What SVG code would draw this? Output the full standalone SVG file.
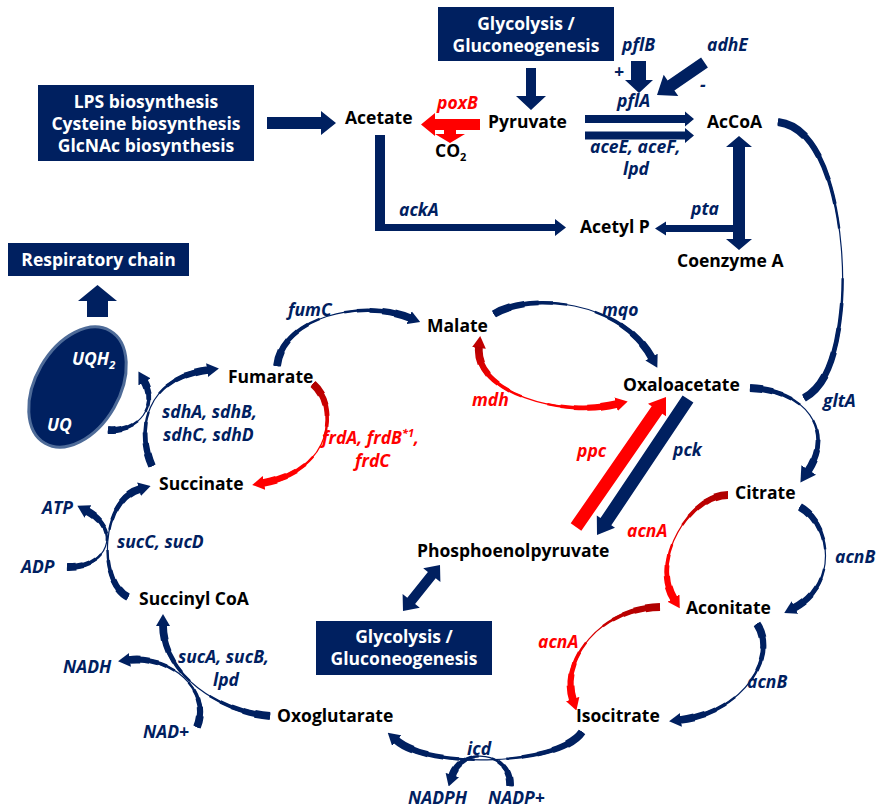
<svg xmlns="http://www.w3.org/2000/svg" xmlns:xlink="http://www.w3.org/1999/xlink" width="884" height="808" viewBox="0 0 884 808">
<style>
text{font-family:"Open Sans","Liberation Sans",sans-serif;font-weight:700;font-size:17.5px}
.n{fill:#000}
.e{font-style:italic;fill:#002060}
.er{font-style:italic;fill:#ff0000}
.bx{fill:#002060}
.bt{fill:#fff;text-anchor:middle}
.nv{fill:#002060}
.rf{fill:#ff0000}
.s0{stroke-width:1.2}
.s1{stroke-width:2.4;stroke-dasharray:42 16 42}
.s2{stroke-width:3.6;stroke-dasharray:34 32 34}
.s3{stroke-width:4.8;stroke-dasharray:26 48 26}
.s4{stroke-width:6.2;stroke-dasharray:18 64 18}
.s5{stroke-width:7.8;stroke-dasharray:10 80 10}
.cv{stroke:#002060;fill:none}
.cr{stroke:url(#rg);fill:none}
</style>
<defs>
<linearGradient id="rg" x1="0" y1="0" x2="0" y2="1">
<stop offset="0" stop-color="#b00000"/>
<stop offset="0.6" stop-color="#ff0000"/>
</linearGradient>
<marker id="hn" viewBox="0 0 12 14" markerWidth="12" markerHeight="14" refX="1" refY="7" orient="auto-start-reverse" markerUnits="userSpaceOnUse"><path d="M0,0 L12,7 L0,14 z" fill="#002060"/></marker>
<marker id="hb" viewBox="0 0 12 14" markerWidth="15" markerHeight="18" refX="1" refY="7" orient="auto-start-reverse" markerUnits="userSpaceOnUse"><path d="M0,0 L12,7 L0,14 z" fill="#002060"/></marker>
<marker id="hr" viewBox="0 0 12 14" markerWidth="12" markerHeight="14" refX="1" refY="7" orient="auto-start-reverse" markerUnits="userSpaceOnUse"><path d="M0,0 L12,7 L0,14 z" fill="#ff0000"/></marker>
<marker id="hd" viewBox="0 0 12 14" markerWidth="12" markerHeight="14" refX="1" refY="7" orient="auto-start-reverse" markerUnits="userSpaceOnUse"><path d="M0,0 L12,7 L0,14 z" fill="#c00000"/></marker>
<path id="pFum" pathLength="100" d="M277,366 C282,318 360,298 410,318"/>
<path id="pSdh" pathLength="100" d="M152,466 C136,430 145,378 208,370"/>
<path id="pUq" pathLength="100" d="M108,430 C140,432 158,405 144,381"/>
<path id="pFrd" pathLength="100" d="M313,384 C338,405 335,470 263,483"/>
<path id="pMqo" pathLength="100" d="M494,314 C530,292 620,300 652,358"/>
<path id="pMdh" pathLength="100" d="M479,347 C474,392 560,418 617,404"/>
<path id="pGlt" pathLength="100" d="M750,388 C805,390 835,430 808,471"/>
<path id="pAc" pathLength="100" d="M778,122 C832,128 846,240 842,300 C838,350 828,385 804,398"/>
<path id="pAcnB1" pathLength="100" d="M800,507 C832,525 838,585 794,608"/>
<path id="pAcnA1" pathLength="100" d="M728,495 C690,495 650,560 674,599"/>
<path id="pAcnA2" pathLength="100" d="M660,607 C600,608 560,660 573,700"/>
<path id="pAcnB2" pathLength="100" d="M757,624 C778,655 745,712 680,720"/>
<path id="pIcd" pathLength="100" d="M582,732 C560,765 430,770 396,740"/>
<path id="pNadp" pathLength="100" d="M510,786 C512,752 462,745 452,776"/>
<path id="pSucA" pathLength="100" d="M270,716 C220,712 163,675 163,625"/>
<path id="pNad" pathLength="100" d="M197,727 C212,690 170,655 129,660"/>
<path id="pSucC" pathLength="100" d="M128,597 C98,582 100,500 140,489"/>
<path id="pAdp" pathLength="100" d="M67,567 C108,568 122,530 87,511"/>
</defs>

<g id="connectors">
<polygon class="nv" points="526,68 536,68 536,96 546,96 531,110 516,96 526,96"/>
<polygon class="nv" points="267,117 321,117 321,111 336,123 321,135 321,129 267,129"/>
<polygon class="rf" points="421,124.5 435,113 435,119 480,119 480,130 435,130 435,136"/>
<polygon class="rf" points="444,129 456,129 456,134 465,134 450,143 435,134 444,134"/>
<polygon class="nv" points="585,115 685,115 685,111.5 694,119 685,126.5 685,123 585,123"/>
<polygon class="nv" points="585,131.5 685,131.5 685,128 694,135.5 685,143 685,139.5 585,139.5"/>
<polygon class="nv" points="631,61 646,61 646,80 653,80 639,93 625,80 631,80"/>
<polygon class="nv" points="701.1,57.5 707.9,67.5 674.4,90.4 678.3,96.1 657,95 663.7,74.7 667.6,80.5"/>
<polygon class="nv" points="739,136 752,147 745,147 745,239 752,239 739,250 726,239 733,239 733,147 726,147"/>
<polygon class="nv" points="739,225 666,225 666,221.5 655,228.5 666,235.5 666,232 739,232"/>
<polygon class="nv" points="375,135 385,135 385,224 555,224 555,219 566,227.5 555,236 555,231 375,231"/>
<polygon class="nv" points="87,317 108,317 108,301 117,301 97.5,285 78,301 87,301"/>
<polygon class="rf" points="570.7,523.3 651.7,406.3 648,403.7 666,397 666,416.3 662.3,413.7 581.3,530.7"/>
<polygon class="nv" points="682.6,395.4 693.4,402.6 611.3,525.3 615,527.8 597,535 596.8,515.6 600.5,518.1"/>
<polygon class="nv" points="440,565 440.4,582 435.7,578.2 415.1,604 419.8,607.8 403,611 402.6,594 407.3,597.8 427.9,572 423.2,568.2"/>

<g class="cv"><use xlink:href="#pFum" class="s0" marker-end="url(#hn)"/><use xlink:href="#pFum" class="s1"/><use xlink:href="#pFum" class="s2"/><use xlink:href="#pFum" class="s3"/><use xlink:href="#pFum" class="s4"/><use xlink:href="#pFum" class="s5"/></g>
<g class="cv"><use xlink:href="#pSdh" class="s0" marker-end="url(#hn)"/><use xlink:href="#pSdh" class="s1"/><use xlink:href="#pSdh" class="s2"/><use xlink:href="#pSdh" class="s3"/><use xlink:href="#pSdh" class="s4"/><use xlink:href="#pSdh" class="s5"/></g>
<g class="cv"><use xlink:href="#pUq" class="s0" marker-end="url(#hn)"/><use xlink:href="#pUq" class="s1"/><use xlink:href="#pUq" class="s2"/><use xlink:href="#pUq" class="s3"/><use xlink:href="#pUq" class="s4"/><use xlink:href="#pUq" class="s5"/></g>
<g class="cr"><use xlink:href="#pFrd" class="s0" marker-end="url(#hr)"/><use xlink:href="#pFrd" class="s1"/><use xlink:href="#pFrd" class="s2"/><use xlink:href="#pFrd" class="s3"/><use xlink:href="#pFrd" class="s4"/><use xlink:href="#pFrd" class="s5"/></g>
<g class="cv"><use xlink:href="#pMqo" class="s0" marker-end="url(#hn)"/><use xlink:href="#pMqo" class="s1"/><use xlink:href="#pMqo" class="s2"/><use xlink:href="#pMqo" class="s3"/><use xlink:href="#pMqo" class="s4"/><use xlink:href="#pMqo" class="s5"/></g>
<g class="cr"><use xlink:href="#pMdh" class="s0" marker-start="url(#hd)" marker-end="url(#hr)"/><use xlink:href="#pMdh" class="s1"/><use xlink:href="#pMdh" class="s2"/><use xlink:href="#pMdh" class="s3"/><use xlink:href="#pMdh" class="s4"/><use xlink:href="#pMdh" class="s5"/></g>
<g class="cv"><use xlink:href="#pGlt" class="s0" marker-end="url(#hb)"/><use xlink:href="#pGlt" class="s1"/><use xlink:href="#pGlt" class="s2"/><use xlink:href="#pGlt" class="s3"/><use xlink:href="#pGlt" class="s4"/><use xlink:href="#pGlt" class="s5"/></g>
<g class="cv"><use xlink:href="#pAc" class="s0"/><use xlink:href="#pAc" class="s1"/><use xlink:href="#pAc" class="s2"/><use xlink:href="#pAc" class="s3"/><use xlink:href="#pAc" class="s4"/><use xlink:href="#pAc" class="s5"/></g>
<g class="cv"><use xlink:href="#pAcnB1" class="s0" marker-end="url(#hn)"/><use xlink:href="#pAcnB1" class="s1"/><use xlink:href="#pAcnB1" class="s2"/><use xlink:href="#pAcnB1" class="s3"/><use xlink:href="#pAcnB1" class="s4"/><use xlink:href="#pAcnB1" class="s5"/></g>
<g class="cr"><use xlink:href="#pAcnA1" class="s0" marker-end="url(#hr)"/><use xlink:href="#pAcnA1" class="s1"/><use xlink:href="#pAcnA1" class="s2"/><use xlink:href="#pAcnA1" class="s3"/><use xlink:href="#pAcnA1" class="s4"/><use xlink:href="#pAcnA1" class="s5"/></g>
<g class="cr"><use xlink:href="#pAcnA2" class="s0" marker-end="url(#hr)"/><use xlink:href="#pAcnA2" class="s1"/><use xlink:href="#pAcnA2" class="s2"/><use xlink:href="#pAcnA2" class="s3"/><use xlink:href="#pAcnA2" class="s4"/><use xlink:href="#pAcnA2" class="s5"/></g>
<g class="cv"><use xlink:href="#pAcnB2" class="s0" marker-end="url(#hn)"/><use xlink:href="#pAcnB2" class="s1"/><use xlink:href="#pAcnB2" class="s2"/><use xlink:href="#pAcnB2" class="s3"/><use xlink:href="#pAcnB2" class="s4"/><use xlink:href="#pAcnB2" class="s5"/></g>
<g class="cv"><use xlink:href="#pIcd" class="s0" marker-end="url(#hn)"/><use xlink:href="#pIcd" class="s1"/><use xlink:href="#pIcd" class="s2"/><use xlink:href="#pIcd" class="s3"/><use xlink:href="#pIcd" class="s4"/><use xlink:href="#pIcd" class="s5"/></g>
<g class="cv"><use xlink:href="#pNadp" class="s0" marker-end="url(#hn)"/><use xlink:href="#pNadp" class="s1"/><use xlink:href="#pNadp" class="s2"/><use xlink:href="#pNadp" class="s3"/><use xlink:href="#pNadp" class="s4"/><use xlink:href="#pNadp" class="s5"/></g>
<g class="cv"><use xlink:href="#pSucA" class="s0" marker-end="url(#hn)"/><use xlink:href="#pSucA" class="s1"/><use xlink:href="#pSucA" class="s2"/><use xlink:href="#pSucA" class="s3"/><use xlink:href="#pSucA" class="s4"/><use xlink:href="#pSucA" class="s5"/></g>
<g class="cv"><use xlink:href="#pNad" class="s0" marker-end="url(#hn)"/><use xlink:href="#pNad" class="s1"/><use xlink:href="#pNad" class="s2"/><use xlink:href="#pNad" class="s3"/><use xlink:href="#pNad" class="s4"/><use xlink:href="#pNad" class="s5"/></g>
<g class="cv"><use xlink:href="#pSucC" class="s0" marker-end="url(#hn)"/><use xlink:href="#pSucC" class="s1"/><use xlink:href="#pSucC" class="s2"/><use xlink:href="#pSucC" class="s3"/><use xlink:href="#pSucC" class="s4"/><use xlink:href="#pSucC" class="s5"/></g>
<g class="cv"><use xlink:href="#pAdp" class="s0" marker-end="url(#hn)"/><use xlink:href="#pAdp" class="s1"/><use xlink:href="#pAdp" class="s2"/><use xlink:href="#pAdp" class="s3"/><use xlink:href="#pAdp" class="s4"/><use xlink:href="#pAdp" class="s5"/></g>

<text class="er" x="437" y="109">poxB</text>
<text class="e" x="622" y="51">pflB</text>
<text class="e" x="707" y="51">adhE</text>
<text class="e" x="614" y="78">+</text>
<text class="e" x="700" y="91">-</text>
<text class="e" x="617" y="107">pflA</text>
<text class="e" x="590" y="153">aceE, aceF,</text>
<text class="e" x="623" y="175">lpd</text>
<text class="e" x="691" y="215">pta</text>
<text class="e" x="399" y="216">ackA</text>
<text class="e" x="602" y="316">mqo</text>
<text class="er" x="472" y="406">mdh</text>
<text class="e" x="823" y="407">gltA</text>
<text class="er" x="577" y="457">ppc</text>
<text class="e" x="673" y="456">pck</text>
<text class="e" x="288" y="316">fumC</text>
<text class="e" x="162" y="418">sdhA, sdhB,</text>
<text class="e" x="163" y="441">sdhC, sdhD</text>
<text class="er" x="322" y="444">frdA, frdB<tspan font-size="11" dy="-7">*1</tspan><tspan dy="7">,</tspan></text>
<text class="er" x="355" y="467">frdC</text>
<text class="er" x="627" y="537">acnA</text>
<text class="e" x="835" y="563">acnB</text>
<text class="er" x="538" y="648">acnA</text>
<text class="e" x="747" y="688">acnB</text>
<text class="e" x="467" y="755">icd</text>
<text class="e" x="408" y="804">NADPH</text>
<text class="e" x="488" y="804">NADP+</text>
<text class="e" x="42" y="514">ATP</text>
<text class="e" x="117" y="548">sucC, sucD</text>
<text class="e" x="21" y="573">ADP</text>
<text class="e" x="178" y="663">sucA, sucB,</text>
<text class="e" x="213" y="686">lpd</text>
<text class="e" x="63" y="673">NADH</text>
<text class="e" x="143" y="738">NAD+</text>
</g>

<g id="glyco-top"><rect class="bx" x="438" y="7" width="176" height="54"/><text class="bt" x="526" y="30">Glycolysis /</text><text class="bt" x="526" y="52">Gluconeogenesis</text></g>
<g id="lps"><rect class="bx" x="38" y="85" width="216" height="76"/><text class="bt" x="146" y="107.5">LPS biosynthesis</text><text class="bt" x="146" y="129.5">Cysteine biosynthesis</text><text class="bt" x="146" y="151.5">GlcNAc biosynthesis</text></g>
<g id="resp"><rect class="bx" x="8" y="243" width="181" height="33"/><text class="bt" x="98.5" y="266">Respiratory chain</text></g>
<g id="glyco-bottom"><rect class="bx" x="316" y="621" width="176" height="54"/><text class="bt" x="404" y="643">Glycolysis /</text><text class="bt" x="404" y="665">Gluconeogenesis</text></g>
<g id="uq"><ellipse cx="77.5" cy="387" rx="65" ry="42" transform="rotate(-60 77.5 387)" fill="#002060" stroke="#4e6b98" stroke-width="3"/><text class="bt" style="font-style:italic;text-anchor:start" x="72" y="365">UQH<tspan font-size="11" dy="4">2</tspan></text><text class="bt" style="font-style:italic;text-anchor:start" x="47" y="431">UQ</text></g>

<g id="acetate"><text class="n" x="345" y="124">Acetate</text></g>
<g id="pyruvate"><text class="n" x="488" y="128">Pyruvate</text></g>
<g id="co2"><text class="n" x="435" y="157">CO<tspan font-size="11" dy="4">2</tspan></text></g>
<g id="accoa"><text class="n" x="707" y="128">AcCoA</text></g>
<g id="acetylp"><text class="n" x="580" y="233">Acetyl P</text></g>
<g id="coa"><text class="n" x="677" y="267">Coenzyme A</text></g>
<g id="malate"><text class="n" x="427" y="332">Malate</text></g>
<g id="oaa"><text class="n" x="623" y="391">Oxaloacetate</text></g>
<g id="citrate"><text class="n" x="735" y="499">Citrate</text></g>
<g id="fumarate"><text class="n" x="228" y="383">Fumarate</text></g>
<g id="succinate"><text class="n" x="159" y="490">Succinate</text></g>
<g id="succoa"><text class="n" x="139" y="605">Succinyl CoA</text></g>
<g id="oxoglutarate"><text class="n" x="277" y="722">Oxoglutarate</text></g>
<g id="pep"><text class="n" x="417" y="557">Phosphoenolpyruvate</text></g>
<g id="aconitate"><text class="n" x="686" y="614">Aconitate</text></g>
<g id="isocitrate"><text class="n" x="576" y="722">Isocitrate</text></g>
</svg>
